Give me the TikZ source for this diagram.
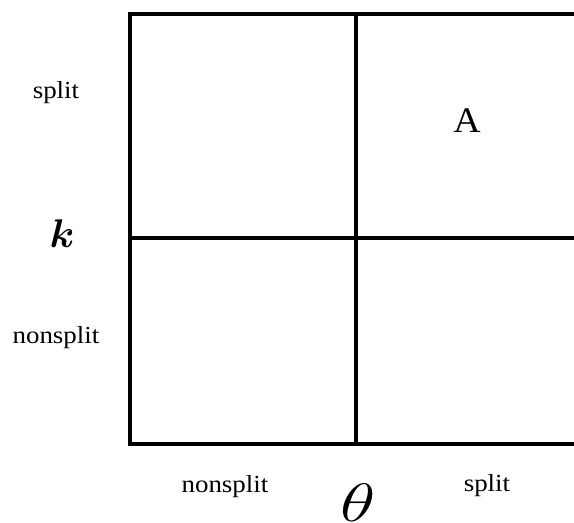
\RequirePackage{fix-cm}
\documentclass[tikz,border=0pt]{standalone}
\usepackage{fontspec}
\usepackage{amsmath}
\usepackage{bm}
\usepackage{graphicx}
\setmainfont{Liberation Serif}
\newcommand{\wtxt}[1]{\scalebox{1.1}[1]{#1}}

\begin{document}
\begin{tikzpicture}[x=1pt,y=-1pt,line width=3pt]
\tikzset{grid/.style={line width=3.5pt,line cap=butt},
  lbl/.style={font=\fontsize{24.5}{28}\selectfont,inner sep=0pt,anchor=base},
  axis/.style={inner sep=0pt}}
\useasboundingbox (0,0) rectangle (574,523);
% ================= grid =================
\coordinate (tl) at (130,14);
\coordinate (bl) at (130,444);
\coordinate (ml) at (130,238);
\coordinate (tm) at (356,14);
\coordinate (bm) at (356,444);
\draw[grid] (580,14) -- (tl) -- (bl) -- (580,444);
\draw[grid] (tm) -- (bm);
\draw[grid] (ml) -- (580,238);
% ---------- row labels ----------
\node[lbl] (ksplit) at (56,98) {\wtxt{split}};
\node[axis,anchor=base,font=\fontsize{40}{44}\selectfont] (kax) at (62,247) {$\bm{k}$};
\node[lbl] (knon) at (56,343) {\wtxt{nonsplit}};
% ---------- column labels ----------
\node[lbl] (tnon) at (225,492) {\wtxt{nonsplit}};
\node[axis,anchor=north,font=\fontsize{54}{58}\selectfont] (tax) at (358,482) {\scalebox{1.35}[1]{$\theta$}};
\node[lbl] (tsplit) at (487,491) {\wtxt{split}};
% ---------- cell ----------
\node[axis,anchor=base,font=\fontsize{36}{40}\selectfont] (cellA) at (467,132) {\scalebox{1.05}[1]{A}};
\end{tikzpicture}
\end{document}
